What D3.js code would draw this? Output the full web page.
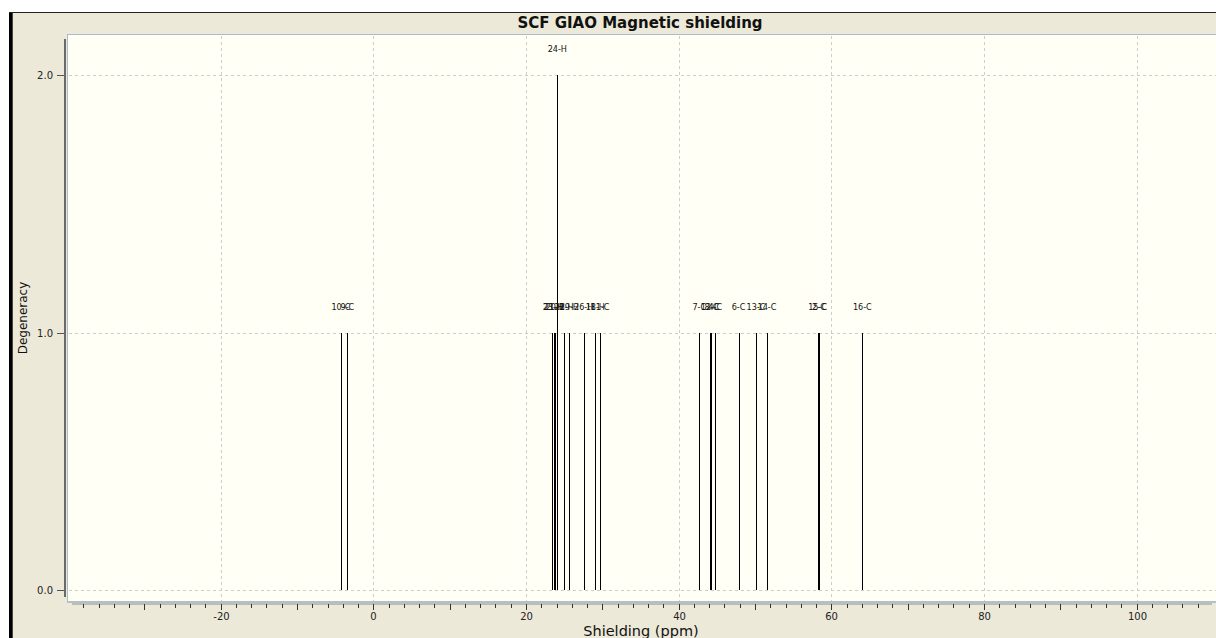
<!DOCTYPE html>
<html><head><meta charset="utf-8">
<script src="https://cdn.jsdelivr.net/npm/d3@7"></script>
<style>
html,body{margin:0;padding:0;background:#fff;}
svg{display:block;}
</style></head><body>
<svg id="chart" width="1216" height="638"></svg>
<script>
// ---- data ----
const atomLabels = ["10-C","9-C","23-H","21-H","20-H","24-H","22-H","19-H","26-H","18-H","11-C","7-C","12-C","8-C","4-C","6-C","13-C","14-C","15-C","2-C","16-C"];
const shieldingValues = [-4.25,-3.4,23.45,23.64,23.84,24.10,24.98,25.67,27.56,29.08,29.70,42.70,44.14,44.30,44.80,47.84,50.13,51.57,58.21,58.38,64.06];
const degeneracy = [1,1,1,1,1,2,1,1,1,1,1,1,1,1,1,1,1,1,1,1,1];
const xTickLabels = [-20,0,20,40,60,80,100];
const yTickLabels = [0,1,2];
const chartTitle = "SCF GIAO Magnetic shielding";
const xTitle = "Shielding (ppm)";
const yTitle = "Degeneracy";

const peaks = atomLabels.map((l,i)=>({label:l, v:shieldingValues[i], d:degeneracy[i]}));

const W=1216,H=638;
const svg=d3.select("#chart");
const x=d3.scaleLinear().domain([-40,110]).range([68,1213]);
const y=d3.scaleLinear().domain([0,2]).range([590,75]);
const plot={l:67.5,t:34.5,b:602};

// background
svg.append("rect").attr("width",W).attr("height",H).attr("fill","#fff");
svg.append("rect").attr("x",12).attr("y",12).attr("width",W-12).attr("height",H-12).attr("fill","#ECE9D8");
svg.append("rect").attr("x",9).attr("y",12).attr("width",3.7).attr("height",H-12).attr("fill","#000");
svg.append("line").attr("x1",9).attr("x2",W).attr("y1",12.5).attr("y2",12.5).attr("stroke","#222").attr("stroke-width",1);

// plot area
svg.append("rect").attr("x",plot.l).attr("y",plot.t).attr("width",W-plot.l+2).attr("height",plot.b-plot.t)
  .attr("fill","#FFFFF5").attr("stroke","#A9BCCB").attr("stroke-width",1);

// grid
const grid=svg.append("g").attr("stroke","#cdcdcd").attr("stroke-dasharray","3,3").attr("shape-rendering","crispEdges");
grid.selectAll("line.v").data(xTickLabels).join("line").attr("class","v")
  .attr("x1",d=>Math.round(x(d))+0.5).attr("x2",d=>Math.round(x(d))+0.5).attr("y1",plot.t+1).attr("y2",plot.b-1);
grid.selectAll("line.h").data(yTickLabels).join("line").attr("class","h")
  .attr("x1",plot.l+1).attr("x2",W).attr("y1",d=>Math.round(y(d))+0.5).attr("y2",d=>Math.round(y(d))+0.5);

// bottom border band
svg.append("line").attr("x1",plot.l-0.5).attr("x2",W).attr("y1",602).attr("y2",602).attr("stroke","#B4C0C8").attr("stroke-width",2);

// x axis
const xTicks=d3.range(-38,110,2);
const xa=svg.append("g").attr("transform","translate(0,603.5)")
  .call(d3.axisBottom(x).tickValues(xTicks).tickSizeOuter(0)
    .tickFormat(d=>xTickLabels.includes(d)?String(d):""));
xa.select(".domain").attr("stroke","#8a9096").attr("d",`M${72},0.5H${1212}`);
xa.selectAll(".tick line").attr("stroke","#333").attr("y2",d=>d%10===0?6:4).attr("shape-rendering","crispEdges");
xa.selectAll(".tick").attr("transform",d=>`translate(${Math.round(x(d))+0.5},0)`);
xa.selectAll(".tick text").attr("y",9.5).attr("fill","#222")
  .style("font-family","DejaVu Sans").style("font-size","10px").text(function(d){return xTickLabels.includes(d)?String(d).replace("-","-"):"";});

// y axis
const ya=svg.append("g").attr("transform","translate(65,0)")
  .call(d3.axisLeft(y).tickValues(yTickLabels).tickSize(8).tickFormat(d3.format(".1f")));
ya.select(".domain").remove();
ya.selectAll(".tick line").attr("stroke","#555").attr("shape-rendering","crispEdges");
ya.selectAll(".tick").attr("transform",d=>`translate(0,${Math.round(y(d))+0.5})`);
ya.selectAll(".tick text").attr("x",-12).attr("fill","#222")
  .style("font-family","DejaVu Sans").style("font-size","10px");
svg.append("line").attr("x1",65).attr("x2",65).attr("y1",39).attr("y2",597).attr("stroke","#6a6a6a").attr("stroke-width",2);

// peaks
svg.append("g").selectAll("line").data(peaks).join("line")
  .attr("x1",d=>Math.round(x(d.v))+0.5).attr("x2",d=>Math.round(x(d.v))+0.5)
  .attr("y1",y(0)).attr("y2",d=>y(d.d))
  .attr("stroke","#000").attr("stroke-width",1).attr("shape-rendering","crispEdges");
svg.append("g").selectAll("text").data(peaks).join("text")
  .attr("x",d=>x(d.v)).attr("y",d=>y(d.d)-23)
  .attr("text-anchor","middle").attr("fill","#111")
  .style("font-family","'Liberation Sans Narrow','DejaVu Sans Condensed','Liberation Sans',sans-serif")
  .style("font-size","9px")
  .text(d=>d.label);

// titles
svg.append("text").attr("x",640).attr("y",28).attr("text-anchor","middle")
  .style("font-family","DejaVu Sans").style("font-weight","bold").style("font-size","15px").attr("fill","#111").text(chartTitle);
svg.append("text").attr("x",641).attr("y",636).attr("text-anchor","middle")
  .style("font-family","DejaVu Sans").style("font-size","14.5px").attr("fill","#111").text(xTitle);
svg.append("text").attr("transform","translate(27,318) rotate(-90)").attr("text-anchor","middle")
  .style("font-family","DejaVu Sans").style("font-size","12px").attr("fill","#111").text(yTitle);
</script>
</body></html>
